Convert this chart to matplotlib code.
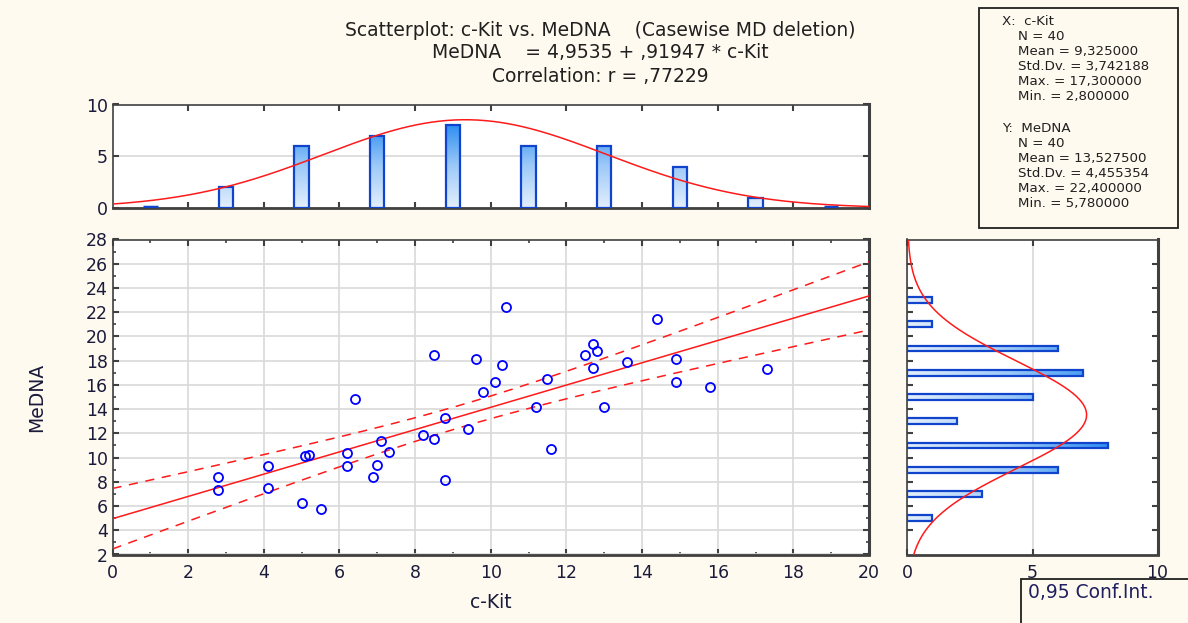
import numpy as np
import matplotlib.pyplot as plt
from matplotlib.patches import Rectangle
from matplotlib.colors import LinearSegmentedColormap

plt.rcParams['font.family'] = ['DejaVu Sans']

# 40 cases, c-Kit vs MeDNA
ckit = [2.8, 2.8, 4.1, 4.1, 5.0, 5.5, 5.1, 5.2, 6.4, 6.2, 6.2, 7.1, 7.3, 7.0, 6.9,
        8.5, 8.2, 8.5, 8.8, 8.8, 9.4, 9.6, 9.8, 10.1, 10.4, 10.3, 11.5, 11.2, 11.6,
        12.7, 12.8, 12.5, 12.7, 13.0, 13.6, 14.4, 14.9, 14.9, 15.8, 17.3]
medna = [8.4, 7.3, 9.3, 7.45, 6.25, 5.78, 10.15, 10.2, 14.8, 10.4, 9.3, 11.4, 10.45, 9.4, 8.4,
         18.5, 11.9, 11.5, 13.3, 8.15, 12.35, 18.1, 15.4, 16.25, 22.4, 17.6, 16.5, 14.2, 10.7,
         19.35, 18.8, 18.5, 17.4, 14.2, 17.9, 21.4, 18.1, 16.2, 15.8, 17.3]

# marginal histograms (bin width 2)
x_centers = [1, 3, 5, 7, 9, 11, 13, 15, 17, 19]
x_counts = [0, 2, 6, 7, 8, 6, 6, 4, 1, 0]
y_centers = [5, 7, 9, 11, 13, 15, 17, 19, 21, 23]
y_counts = [1, 3, 6, 8, 2, 5, 7, 6, 1, 1]

intercept, slope = 4.9535, 0.91947
x_mean, x_sd = 9.325, 3.742188
y_mean, y_sd = 13.5275, 4.455354
n = 40

title_lines = ["Scatterplot: c-Kit vs. MeDNA    (Casewise MD deletion)",
               "MeDNA    = 4,9535 + ,91947 * c-Kit",
               "Correlation: r = ,77229"]
stats_x = ["N = 40", "Mean = 9,325000", "Std.Dv. = 3,742188",
           "Max. = 17,300000", "Min. = 2,800000"]
stats_y = ["N = 40", "Mean = 13,527500", "Std.Dv. = 4,455354",
           "Max. = 22,400000", "Min. = 5,780000"]

bg = '#fffaf0'
red = '#ff1a1a'
edge_blue = '#1044cc'
spine_col = '#404040'
grid_col = '#d9d9d9'
text_col = '#1a1a3a'
bar_cmap = LinearSegmentedColormap.from_list('bars', ['#e4effc', '#9cc9f8', '#2a8cf2'])

W, H = 1188, 623
fig = plt.figure(figsize=(W / 100, H / 100), dpi=100, facecolor=bg)


def rect(l, t, r, b):
    return [l / W, 1 - b / H, (r - l) / W, (b - t) / H]


def style(ax):
    ax.set_facecolor('white')
    for s in ax.spines.values():
        s.set_color(spine_col)
        s.set_linewidth(1.2)
    ax.spines['right'].set_linewidth(2.2)
    ax.spines['bottom'].set_linewidth(2.0)
    ax.tick_params(which='both', direction='in', top=True, right=True,
                   colors=spine_col, labelcolor=text_col, labelsize=12.5)
    ax.tick_params(which='major', length=4, width=1.5)
    ax.tick_params(which='minor', length=2, width=1.2)


def normal(v, m, s):
    return n * 2 * np.exp(-0.5 * ((v - m) / s) ** 2) / (s * np.sqrt(2 * np.pi))


# main scatter
ax = fig.add_axes(rect(112.5, 239.5, 869, 554.5))
style(ax)
ax.set_xlim(0, 20)
ax.set_ylim(2, 28)
ax.set_xticks(np.arange(0, 21, 2))
ax.set_xticks(np.arange(0, 21, 1), minor=True)
ax.set_yticks(np.arange(2, 29, 2))
ax.set_yticks(np.arange(2, 29, 1), minor=True)
ax.grid(True, which='major', color=grid_col, lw=1.2)
ax.set_axisbelow(True)
ax.tick_params(axis='x', pad=7)

xx = np.linspace(0, 20, 200)
yy = intercept + slope * xx
xa = np.array(ckit)
ya = np.array(medna)
resid = ya - (intercept + slope * xa)
s_err = np.sqrt(np.sum(resid ** 2) / (n - 2))
sxx = np.sum((xa - xa.mean()) ** 2)
half = 2.024 * s_err * np.sqrt(1 / n + (xx - xa.mean()) ** 2 / sxx)
ax.plot(xx, yy, color=red, lw=1.1, zorder=3)
ax.plot(xx, yy + half, color=red, lw=1.1, ls=(0, (6, 5)), zorder=3)
ax.plot(xx, yy - half, color=red, lw=1.1, ls=(0, (6, 5)), zorder=3)
ax.plot(ckit, medna, 'o', mfc='none', mec='#0000ff', ms=6.5, mew=1.3, zorder=4)
ax.set_xlabel('c-Kit', fontsize=13.5, color=text_col, labelpad=8)
ax.set_ylabel('MeDNA', fontsize=13.5, color=text_col, labelpad=28)

# top histogram of c-Kit
axt = fig.add_axes(rect(112.5, 104.5, 869, 208))
style(axt)
axt.set_xlim(0, 20)
axt.set_ylim(0, 10)
axt.set_xticks(np.arange(2, 20, 2))
axt.tick_params(axis='x', labelbottom=False)
axt.set_yticks([0, 5, 10])
axt.grid(True, axis='y', color=grid_col, lw=1.2)
axt.set_axisbelow(True)
grad = np.linspace(0, 1, 256).reshape(-1, 1)
for c, k in zip(x_centers, x_counts):
    if k == 0:
        axt.hlines(0.06, c - 0.19, c + 0.19, color=edge_blue, lw=2.5, zorder=3)
        continue
    b = axt.bar(c, k, width=0.38, facecolor='none', edgecolor=edge_blue, lw=1.6, zorder=3)[0]
    im = axt.imshow(grad, extent=(0, 20, 0, 8.2), origin='lower', aspect='auto',
                    cmap=bar_cmap, zorder=2)
    im.set_clip_path(b)
axt.set_xlim(0, 20)
axt.set_ylim(0, 10)
axt.plot(xx, normal(xx, x_mean, x_sd), color=red, lw=1.1, zorder=4)

# right histogram of MeDNA
axr = fig.add_axes(rect(907.5, 239.5, 1157.5, 554.5))
style(axr)
axr.set_xlim(0, 10)
axr.set_ylim(2, 28)
axr.set_xticks([0, 5, 10])
axr.set_yticks(np.arange(4, 28, 2))
axr.tick_params(axis='y', labelleft=False)
axr.tick_params(axis='x', pad=7)
axr.grid(True, axis='x', color=grid_col, lw=1.2)
axr.set_axisbelow(True)
gradh = np.linspace(0, 1, 256).reshape(1, -1)
for c, k in zip(y_centers, y_counts):
    b = axr.barh(c, k, height=0.48, facecolor='none', edgecolor=edge_blue, lw=1.6, zorder=3)[0]
    im = axr.imshow(gradh, extent=(0, 8.2, 2, 28), origin='lower', aspect='auto',
                    cmap=bar_cmap, zorder=2)
    im.set_clip_path(b)
axr.set_xlim(0, 10)
axr.set_ylim(2, 28)
yy2 = np.linspace(2, 28, 200)
axr.plot(normal(yy2, y_mean, y_sd), yy2, color=red, lw=1.1, zorder=4)

# titles
for i, line in enumerate(title_lines):
    fig.text(600 / W, 1 - (30 + i * 23) / H, line, ha='center', va='center',
             fontsize=13.5, color='#202020')

# statistics box
fig.patches.append(Rectangle((979 / W, 1 - 228 / H), 199 / W, 220 / H,
                             transform=fig.transFigure, facecolor=bg,
                             edgecolor='#202020', lw=1.3, zorder=1))
fs = 9.6
fig.text(1002 / W, 1 - 21.5 / H, "X:  c-Kit", fontsize=fs, va='center', color='#202020')
for i, s in enumerate(stats_x):
    fig.text(1018 / W, 1 - (36 + i * 15.1) / H, s, fontsize=fs, va='center', color='#202020')
fig.text(1002 / W, 1 - 128 / H, "Y:  MeDNA", fontsize=fs, va='center', color='#202020')
for i, s in enumerate(stats_y):
    fig.text(1018 / W, 1 - (143.5 + i * 15.1) / H, s, fontsize=fs, va='center', color='#202020')

# confidence interval legend box
fig.patches.append(Rectangle((1021 / W, -0.05), 0.3, 0.05 + (623 - 579) / H,
                             transform=fig.transFigure, facecolor=bg,
                             edgecolor='#202020', lw=1.3, zorder=5))
fig.text(1028 / W, 1 - 593 / H, "0,95 Conf.Int.", fontsize=13.5, va='center',
         color='#202060', zorder=6)

fig.savefig('out.png', dpi=100, facecolor=bg)
